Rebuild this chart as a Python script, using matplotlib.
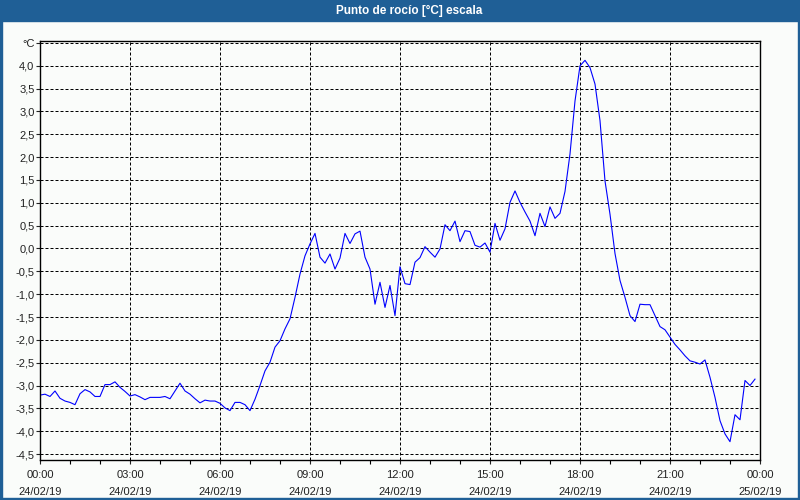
import matplotlib
matplotlib.use("Agg")
import matplotlib.pyplot as plt
from matplotlib.ticker import MultipleLocator, FixedLocator
import numpy as np

plt.rcParams['font.family'] = ['Liberation Sans', 'DejaVu Sans']

# dew point, 10 minute samples starting 24/02/19 00:00
dew_point = [
    -3.21, -3.19, -3.24, -3.12, -3.28, -3.34, -3.37, -3.42, -3.18, -3.09,
    -3.14, -3.24, -3.24, -2.98, -2.98, -2.92, -3.04, -3.13, -3.23, -3.20,
    -3.25, -3.31, -3.26, -3.26, -3.26, -3.24, -3.29, -3.12, -2.95, -3.12,
    -3.19, -3.29, -3.38, -3.32, -3.34, -3.34, -3.39, -3.49, -3.55, -3.37,
    -3.37, -3.42, -3.55, -3.30, -3.00, -2.68, -2.49, -2.16, -2.02, -1.76,
    -1.54, -1.07, -0.56, -0.16, 0.10, 0.33, -0.19, -0.32, -0.12, -0.45,
    -0.21, 0.33, 0.11, 0.32, 0.38, -0.19, -0.45, -1.22, -0.74, -1.29,
    -0.81, -1.47, -0.40, -0.77, -0.79, -0.30, -0.20, 0.04, -0.08, -0.19,
    -0.01, 0.52, 0.39, 0.60, 0.15, 0.39, 0.37, 0.07, 0.03, 0.12,
    -0.08, 0.55, 0.18, 0.43, 1.01, 1.26, 1.01, 0.80, 0.60, 0.28,
    0.77, 0.48, 0.91, 0.66, 0.77, 1.25, 2.07, 3.23, 4.00, 4.12,
    3.96, 3.60, 2.80, 1.48, 0.75, -0.11, -0.70, -1.07, -1.47, -1.60,
    -1.22, -1.23, -1.23, -1.47, -1.71, -1.78, -1.94, -2.10, -2.22, -2.35,
    -2.46, -2.49, -2.53, -2.44, -2.82, -3.26, -3.77, -4.06, -4.23, -3.64,
    -3.75, -2.89, -3.00, -2.86,
]
hours = np.arange(len(dew_point)) / 6.0

x_ticks = [0, 3, 6, 9, 12, 15, 18, 21, 24]
x_labels = ['00:00\n24/02/19', '03:00\n24/02/19', '06:00\n24/02/19',
            '09:00\n24/02/19', '12:00\n24/02/19', '15:00\n24/02/19',
            '18:00\n24/02/19', '21:00\n24/02/19', '00:00\n25/02/19']
y_ticks = [-4.5, -4.0, -3.5, -3.0, -2.5, -2.0, -1.5, -1.0, -0.5, 0.0,
           0.5, 1.0, 1.5, 2.0, 2.5, 3.0, 3.5, 4.0, 4.5]

bg = '#fafcfa'
blue_bar = '#1f5f96'

fig = plt.figure(figsize=(8, 5), dpi=100, facecolor=bg)
ax = fig.add_axes([0.05, 0.08, 0.90, 0.839])
ax.set_facecolor(bg)

ax.plot(hours, dew_point, color='#0000ff', lw=0.8)

ax.set_xlim(0, 24)
ax.set_ylim(-4.631, 4.554)

ax.xaxis.set_major_locator(FixedLocator(x_ticks))
ax.xaxis.set_minor_locator(MultipleLocator(1))
ax.set_xticklabels(x_labels, linespacing=1.85)
ax.yaxis.set_major_locator(FixedLocator(y_ticks))
ylabels = [('%.1f' % v).replace('.', ',') for v in y_ticks]
ylabels[-1] = '°C'
ax.set_yticklabels(ylabels)

ax.tick_params(axis='both', which='major', labelsize=8, colors='#222222',
               length=3, width=0.8)
ax.tick_params(axis='x', which='minor', length=3, width=0.8)
ax.tick_params(axis='x', pad=4)
ax.tick_params(axis='y', pad=1)

ax.grid(True, which='major', color='black', lw=0.72, linestyle=(0, (3, 2)))
for s in ax.spines.values():
    s.set_linewidth(1.0)
    s.set_color('black')

# title bar
fig.patches.append(plt.Rectangle((0, 1 - 21 / 500), 1, 21 / 500,
                                 transform=fig.transFigure,
                                 color=blue_bar, zorder=0))
fig.text(0.512, 1 - 10.5 / 500, 'Punto de rocío [°C] escala', color='white',
         fontsize=8.5, fontweight='bold', ha='center', va='center')

# window border
for rect in [(0, 0, 2 / 800, 1), (1 - 2 / 800, 0, 2 / 800, 1), (0, 0, 1, 2 / 500)]:
    fig.patches.append(plt.Rectangle(rect[:2], rect[2], rect[3],
                                     transform=fig.transFigure,
                                     color=blue_bar, zorder=0))

plt.savefig('out.png', dpi=100, facecolor=bg)
